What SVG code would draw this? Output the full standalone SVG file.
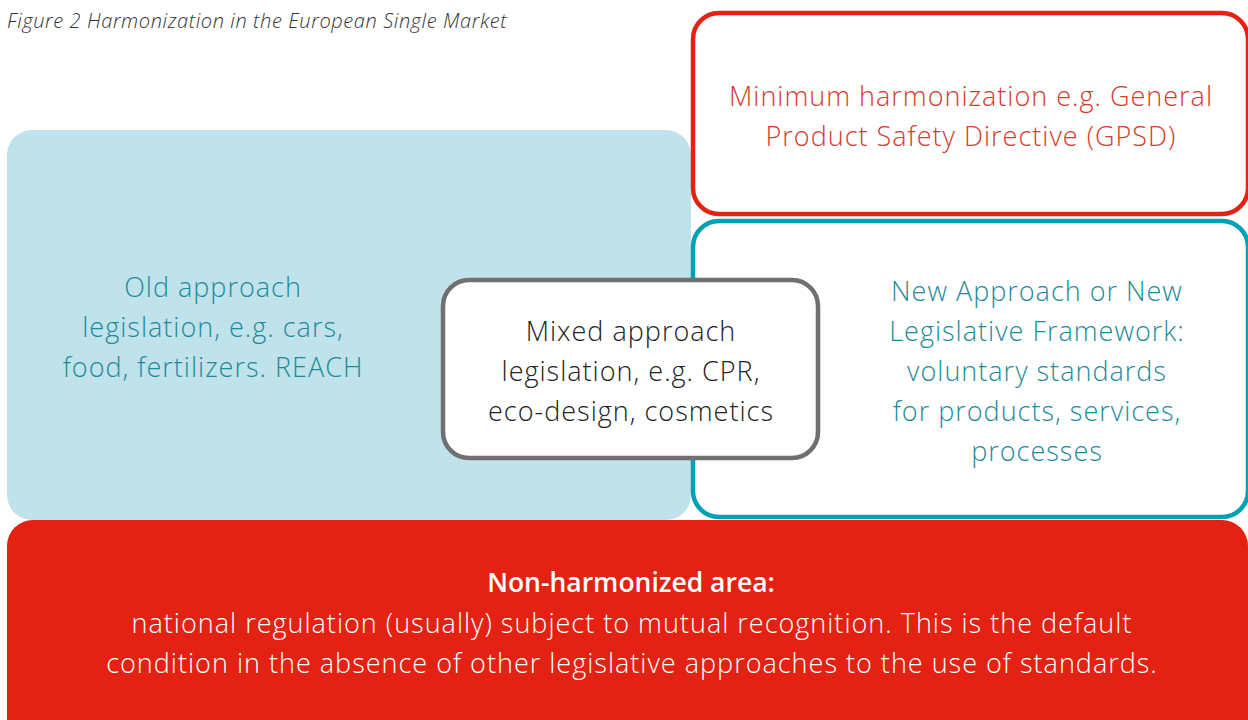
<svg xmlns="http://www.w3.org/2000/svg" width="1248" height="720" viewBox="0 0 1248 720">
<style>
text{font-family:"Open Sans","Noto Sans","Liberation Sans",sans-serif;font-weight:300;text-anchor:middle;font-size:27px;letter-spacing:1px}
.title{font-size:20px;text-anchor:start;font-style:italic;fill:#333;letter-spacing:0.6px}
.teal{fill:#1d8b9b}
.red{fill:#d63a2e}
.dark{fill:#222}
.white{fill:#fff}
.bold{font-weight:600;font-size:26.5px;letter-spacing:0}
</style>
<rect width="1248" height="720" fill="#fff"/>
<text class="title" x="7" y="28">Figure 2 Harmonization in the European Single Market</text>
<g id="old">
<rect x="7" y="130" width="684" height="390" rx="25" fill="#c0e2ea"/>
<text class="teal" x="213" y="297">Old approach</text>
<text class="teal" x="213" y="337">legislation, e.g. cars,</text>
<text class="teal" x="213" y="377">food, fertilizers. REACH</text>
</g>
<g id="minimum">
<rect x="693" y="13" width="555" height="201" rx="26" fill="#fff" stroke="#e32213" stroke-width="4.5"/>
<text class="red" x="971" y="106">Minimum harmonization e.g. General</text>
<text class="red" x="971" y="146">Product Safety Directive (GPSD)</text>
</g>
<g id="new">
<rect x="693" y="221" width="555" height="296" rx="26" fill="#fff" stroke="#00a0b5" stroke-width="4.5"/>
<text class="teal" x="1037" y="301">New Approach or New</text>
<text class="teal" x="1037" y="341">Legislative Framework:</text>
<text class="teal" x="1037" y="381">voluntary standards</text>
<text class="teal" x="1037" y="421">for products, services,</text>
<text class="teal" x="1037" y="461">processes</text>
</g>
<g id="mixed">
<rect x="443" y="280" width="375" height="178" rx="26" fill="#fff" stroke="#707070" stroke-width="4.5"/>
<text class="dark" x="631" y="341">Mixed approach</text>
<text class="dark" x="631" y="381">legislation, e.g. CPR,</text>
<text class="dark" x="631" y="421">eco-design, cosmetics</text>
</g>
<g id="nonharmonized">
<rect x="7" y="520" width="1241" height="230" rx="26" fill="#e32213"/>
<text class="white bold" x="631" y="592">Non-harmonized area:</text>
<text class="white" x="632" y="633">national regulation (usually) subject to mutual recognition. This is the default</text>
<text class="white" x="632" y="673">condition in the absence of other legislative approaches to the use of standards.</text>
</g>
<g id="connectors"/>
</svg>
